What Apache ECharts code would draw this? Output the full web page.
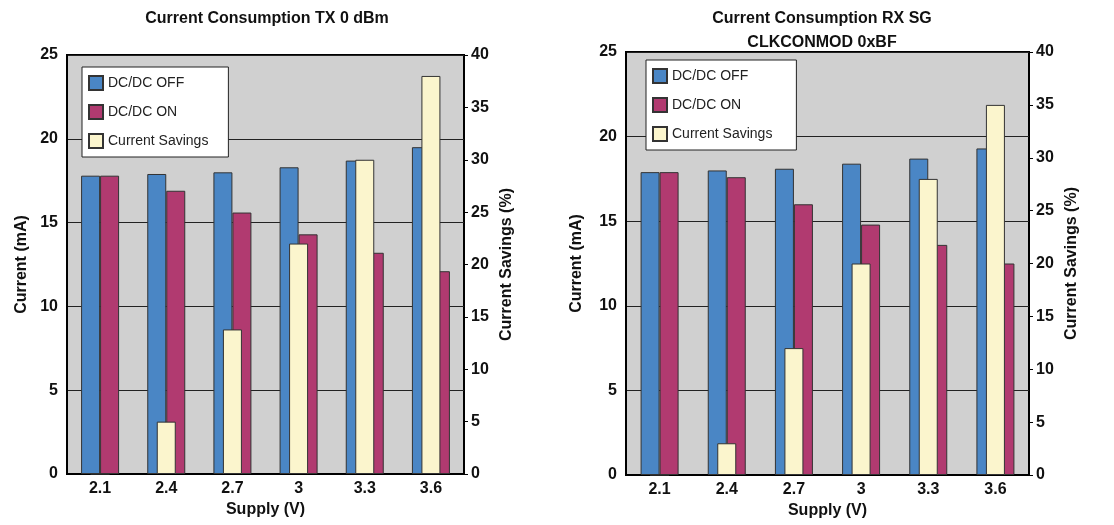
<!DOCTYPE html>
<html>
<head>
<meta charset="utf-8">
<title>Current Consumption</title>
<script src="https://cdn.jsdelivr.net/npm/echarts@6/dist/echarts.min.js"></script>
<style>
  html, body { margin: 0; padding: 0; background: #fff; }
  #chart { width: 1114px; height: 525px; }
</style>
</head>
<body>
<div id="chart"></div>
<script>
// data
const supply = ['2.1', '2.4', '2.7', '3', '3.3', '3.6']
const txOff = [17.8, 17.9, 18.0, 18.3, 18.7, 19.5]
const txOn = [17.8, 16.9, 15.6, 14.3, 13.2, 12.1]
const txSavings = [0, 5, 13.8, 22, 30, 38]
const rxOff = [17.9, 18.0, 18.1, 18.4, 18.7, 19.3]
const rxOn = [17.9, 17.6, 16.0, 14.8, 13.6, 12.5]
const rxSavings = [0, 3, 12, 20, 28, 35]
const currentTicks = [0, 5, 10, 15, 20, 25]
const savingsTicks = [0, 5, 10, 15, 20, 25, 30, 35, 40]

const FONT = 'Liberation Sans, Arial, sans-serif'
const BLUE = '#4a86c5'
const MAGENTA = '#b13a70'
const CREAM = '#fbf5cd'

const chart = echarts.init(document.getElementById('chart'))

//坐标轴工厂
function catAxis(gridIndex, show){
  return {
    type: 'category',
    gridIndex: gridIndex,
    data: supply,
    show: show,
    name: 'Supply (V)',
    nameLocation: 'middle',
    nameGap: 25,
    nameTextStyle: {fontFamily: FONT, fontWeight: 'bold', fontSize: 16, color: '#111'},
    axisLine: {lineStyle: {color: '#000', width: 2}},
    axisTick: {length: 5, lineStyle: {color: '#000'}},
    axisLabel: {fontFamily: FONT, fontWeight: 'bold', fontSize: 16, color: '#111', margin: 7}
  }
}
function currentAxis(gridIndex, gap){
  return {
    type: 'value',
    gridIndex: gridIndex,
    min: currentTicks[0],
    max: currentTicks[currentTicks.length - 1],
    interval: 5,
    name: 'Current (mA)',
    nameLocation: 'middle',
    nameRotate: 90,
    nameGap: gap,
    nameTextStyle: {fontFamily: FONT, fontWeight: 'bold', fontSize: 16, color: '#111'},
    axisLine: {show: true, lineStyle: {color: '#000', width: 2}},
    axisTick: {show: false},
    axisLabel: {fontFamily: FONT, fontWeight: 'bold', fontSize: 16, color: '#111', margin: 9},
    splitLine: {show: true, lineStyle: {color: '#222', width: 1}}
  }
}
function savingsAxis(gridIndex, gap){
  return {
    type: 'value',
    gridIndex: gridIndex,
    position: 'right',
    min: savingsTicks[0],
    max: savingsTicks[savingsTicks.length - 1],
    interval: 5,
    name: 'Current Savings (%)',
    nameLocation: 'middle',
    nameRotate: 90,
    nameGap: gap,
    nameTextStyle: {fontFamily: FONT, fontWeight: 'bold', fontSize: 16, color: '#111'},
    axisLine: {show: true, lineStyle: {color: '#000', width: 1}},
    axisTick: {show: true, length: 4, lineStyle: {color: '#000'}},
    axisLabel: {fontFamily: FONT, fontWeight: 'bold', fontSize: 16, color: '#111', margin: 7},
    splitLine: {show: false}
  }
}
function barSeries(name, color, data, xi, yi, width){
  return {
    name: name,
    type: 'bar',
    xAxisIndex: xi,
    yAxisIndex: yi,
    data: data,
    barWidth: width,
    barGap: 0,
    itemStyle: {color: color, borderColor: '#333', borderWidth: 1}
  }
}
function legendBox(left, top, padRight){
  return {
    orient: 'vertical',
    left: left,
    top: top,
    icon: 'rect',
    itemWidth: 14,
    itemHeight: 14,
    itemGap: 13,
    padding: [8, padRight, 8, 6],
    backgroundColor: '#fff',
    borderColor: '#222',
    borderWidth: 1,
    textStyle: {fontFamily: FONT, fontSize: 14, color: '#222', padding: [0, 0, 0, 0]},
    data: ['DC/DC OFF', 'DC/DC ON', 'Current Savings']
  }
}

const option = {
  animation: false,
  title: [
    {
      text: 'Current Consumption TX 0 dBm',
      left: 262, top: 6, textAlign: 'center',
      textStyle: {fontFamily: FONT, fontWeight: 'bold', fontSize: 16, color: '#111'}
    },
    {
      text: 'Current Consumption RX SG\nCLKCONMOD 0xBF',
      left: 817, top: 2, textAlign: 'center',
      textStyle: {fontFamily: FONT, fontWeight: 'bold', fontSize: 16, color: '#111', lineHeight: 24}
    }
  ],
  legend: [legendBox(82, 67, 20), legendBox(646, 60, 24)],
  grid: [
    {left: 67, right: 650, top: 55, bottom: 51, show: true, backgroundColor: '#d0d0d0', borderColor: '#000', borderWidth: 2},
    {left: 626, right: 85, top: 52, bottom: 50, show: true, backgroundColor: '#d0d0d0', borderColor: '#000', borderWidth: 2}
  ],
  xAxis: [catAxis(0, true), catAxis(0, false), catAxis(1, true), catAxis(1, false)],
  yAxis: [currentAxis(0, 37), savingsAxis(0, 35), currentAxis(1, 41), savingsAxis(1, 35)],
  series: [
    barSeries('DC/DC OFF', BLUE, txOff, 0, 0, 19),
    barSeries('DC/DC ON', MAGENTA, txOn, 0, 0, 19),
    barSeries('Current Savings', CREAM, txSavings, 1, 1, 19),
    barSeries('DC/DC OFF', BLUE, rxOff, 2, 2, 19),
    barSeries('DC/DC ON', MAGENTA, rxOn, 2, 2, 19),
    barSeries('Current Savings', CREAM, rxSavings, 3, 3, 19)
  ]
}
chart.setOption(option)
</script>
</body>
</html>
